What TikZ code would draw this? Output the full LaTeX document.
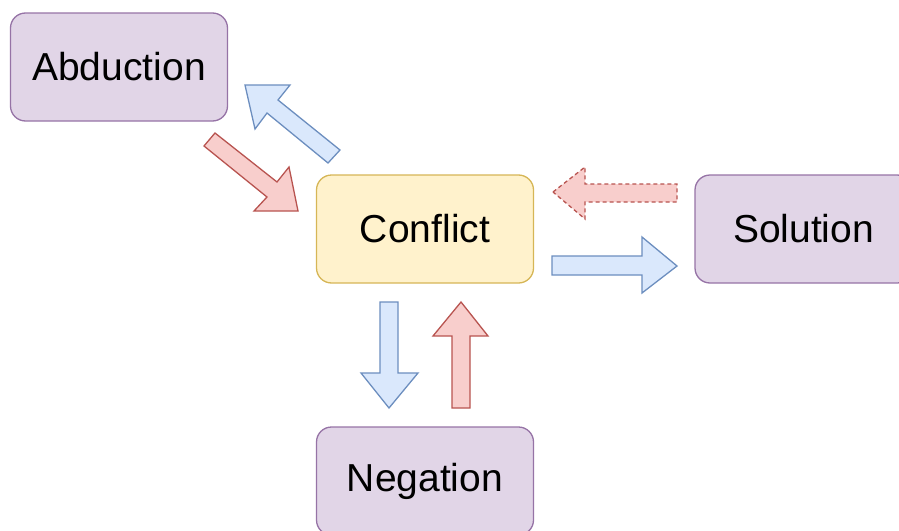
\documentclass[tikz,border=0pt]{standalone}
\usepackage{fontspec}
\setmainfont{Liberation Sans}
\definecolor{purfill}{HTML}{E1D5E7}
\definecolor{purline}{HTML}{9673A6}
\definecolor{yelfill}{HTML}{FFF2CC}
\definecolor{yelline}{HTML}{D6B656}
\definecolor{bluefill}{HTML}{DAE8FC}
\definecolor{blueline}{HTML}{6C8EBF}
\definecolor{redfill}{HTML}{F8CECC}
\definecolor{redline}{HTML}{B85450}
\begin{document}
\begin{tikzpicture}[x=1pt,y=-1pt,
  box/.style={draw=purline,fill=purfill,line width=1.3pt,rounded corners=15pt,
    minimum width=217pt,minimum height=108pt,inner sep=0pt,
    font=\fontsize{39}{46}\selectfont,text=black},
  conf/.style={box,draw=yelline,fill=yelfill},
  bluearrow/.style={draw=blueline,fill=bluefill,line width=1.3pt,line join=miter},
  redarrow/.style={draw=redline,fill=redfill,line width=1.3pt,line join=miter},
  dasharrow/.style={redarrow,dash pattern=on 4pt off 3pt}]
\useasboundingbox (0,0) rectangle (899,530);
\clip (0,0) rectangle (899,530);
\node[box]  (abd) at (119,67)  {Abduction};
\node[conf] (con) at (425,229) {Conflict};
\node[box]  (sol) at (803.5,229) {Solution};
\node[box]  (neg) at (425,481) {Negation};
% Conflict -> Abduction (blue, up-left)
\draw[bluearrow] (245,85) -- (290,85) -- (278,100) -- (340,150) -- (328,163)
  -- (267,113) -- (255,129) -- cycle;
% Abduction -> Conflict (red, down-right)
\draw[redarrow] (215,133) -- (277,182) -- (289,167) -- (298,211) -- (254,211)
  -- (267,197) -- (204,146) -- cycle;
% Solution -> Conflict (red dashed, left)
\draw[dasharrow] (553,192) -- (585,167) -- (585,184) -- (677,184) -- (677,202)
  -- (585,202) -- (585,219) -- cycle;
% Conflict -> Solution (blue, right)
\draw[bluearrow] (552,256) -- (642,256) -- (642,237) -- (677,266) -- (642,293)
  -- (642,275) -- (552,275) -- cycle;
% Conflict -> Negation (blue, down)
\draw[bluearrow] (380,302) -- (398,302) -- (398,373) -- (418,373) -- (389,408)
  -- (361,373) -- (380,373) -- cycle;
% Negation -> Conflict (red, up)
\draw[redarrow] (461,302) -- (488,336) -- (470,336) -- (470,408) -- (452,408)
  -- (452,336) -- (433,336) -- cycle;
\end{tikzpicture}
\end{document}
